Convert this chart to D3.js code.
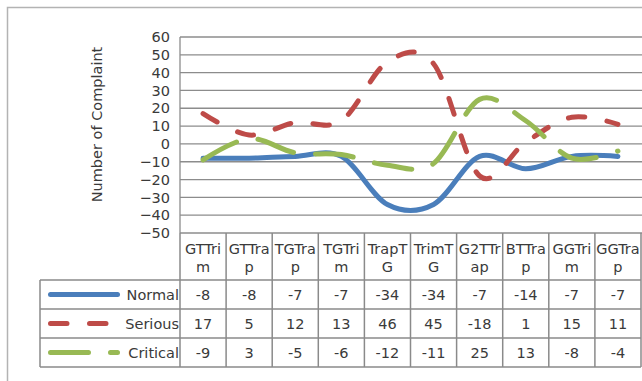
<!DOCTYPE html>
<html>
<head>
<meta charset="utf-8">
<script src="https://cdn.jsdelivr.net/npm/d3@7"></script>
<style>
  body { margin: 0; background: #fff; }
  svg { display: block; }
  text { font-family: "DejaVu Sans", sans-serif; fill: #3a3a3a; }
</style>
</head>
<body>
<script>
// Complaint counts per configuration
const categories = ["GTTrim", "GTTrap", "TGTrap", "TGTrim", "TrapTG", "TrimTG", "G2TTrap", "BTTrap", "GGTrim", "GGTrap"];
const normal   = [-8, -8, -7, -7, -34, -34, -7, -14, -7, -7];
const serious  = [17, 5, 12, 13, 46, 45, -18, 1, 15, 11];
const critical = [-9, 3, -5, -6, -12, -11, 25, 13, -8, -4];
const seriesNames = ["Normal", "Serious", "Critical"];
const yTicks = [60, 50, 40, 30, 20, 10, 0, -10, -20, -30, -40, -50];

const W = 642, H = 381;
const plot = { left: 180, right: 641, top: 37, bottom: 233 };
const rowH = 29, headerBottom = 280, tableLeft = 40;

const series = [
  { name: seriesNames[0], values: normal,   color: "#4a7ebb", dash: null },
  { name: seriesNames[1], values: serious,  color: "#be4b48", dash: "16.5,22.5" },
  { name: seriesNames[2], values: critical, color: "#98b954", dash: "38,22" }
];

const svg = d3.select("body").append("svg").attr("width", W).attr("height", H);

// chart frame
svg.append("path")
  .attr("d", `M7.5,${H}V7.5H${W}`)
  .attr("fill", "none").attr("stroke", "#b3b3b3").attr("stroke-width", 1.5);

const x = d3.scaleBand().domain(categories).range([plot.left, plot.right]);
const y = d3.scaleLinear().domain([-50, 60]).range([plot.bottom, plot.top]);

// horizontal gridlines
svg.append("g").selectAll("line").data(yTicks).join("line")
  .attr("x1", plot.left).attr("x2", W)
  .attr("y1", d => y(d)).attr("y2", d => y(d))
  .attr("stroke", "#8c8c8c").attr("stroke-width", 1.3);

// value axis labels
const yAxis = svg.append("g")
  .attr("transform", `translate(${plot.left - 10},0)`)
  .call(d3.axisLeft(y).tickValues(yTicks).tickSize(0).tickPadding(0).tickFormat(d3.format("d")));
yAxis.select(".domain").remove();
yAxis.selectAll("text").style("font-size", "14.5px").attr("fill", "#3a3a3a").style("font-family", "\"DejaVu Sans\", sans-serif");

svg.append("line")
  .attr("x1", plot.left).attr("x2", plot.left)
  .attr("y1", plot.top).attr("y2", plot.bottom)
  .attr("stroke", "#8c8c8c").attr("stroke-width", 1.3);

// axis title
svg.append("text")
  .attr("transform", "translate(102,124.5) rotate(-90)")
  .attr("text-anchor", "middle")
  .style("font-size", "14.5px")
  .text("Number of Complaint");

// series lines, smoothed
const line = d3.line()
  .x((d, i) => x(categories[i]) + x.bandwidth() / 2)
  .y(d => y(d))
  .curve(d3.curveCatmullRom.alpha(0));

series.forEach(s => {
  svg.append("path")
    .attr("d", line(s.values))
    .attr("fill", "none")
    .attr("stroke", s.color)
    .attr("stroke-width", 5)
    .attr("stroke-linecap", "round")
    .attr("stroke-linejoin", "round")
    .attr("stroke-dasharray", s.dash);
});

// data table
const tbl = svg.append("g");
const gridColor = "#8a8a8a";
const colEdges = categories.map(c => x(c)).concat([plot.right]);

tbl.selectAll("line.v").data(colEdges).join("line")
  .attr("x1", d => d).attr("x2", d => d)
  .attr("y1", plot.bottom).attr("y2", headerBottom + rowH * 3)
  .attr("stroke", gridColor).attr("stroke-width", 1.5);

tbl.append("line")
  .attr("x1", tableLeft).attr("x2", tableLeft)
  .attr("y1", headerBottom).attr("y2", headerBottom + rowH * 3)
  .attr("stroke", gridColor).attr("stroke-width", 1.5);

tbl.selectAll("line.h").data(d3.range(4)).join("line")
  .attr("x1", tableLeft).attr("x2", plot.right)
  .attr("y1", i => headerBottom + i * rowH).attr("y2", i => headerBottom + i * rowH)
  .attr("stroke", gridColor).attr("stroke-width", 1.5);

// category header, wrapped to two lines
const head = tbl.selectAll("text.cat").data(categories).join("text")
  .attr("text-anchor", "middle")
  .style("font-size", "14.5px")
  .attr("x", d => x(d) + x.bandwidth() / 2);
head.append("tspan").attr("x", d => x(d) + x.bandwidth() / 2).attr("y", 254).text(d => d.slice(0, 5));
head.append("tspan").attr("x", d => x(d) + x.bandwidth() / 2).attr("y", 272).text(d => d.slice(5));

// rows: legend key + values
series.forEach((s, r) => {
  const cy = headerBottom + r * rowH + rowH / 2;
  tbl.append("path")
    .attr("d", `M50.5,${cy}H117.5`)
    .attr("fill", "none")
    .attr("stroke", s.color)
    .attr("stroke-width", 5)
    .attr("stroke-linecap", "round")
    .attr("stroke-dasharray", s.dash);
  tbl.append("text")
    .attr("x", 179).attr("y", cy).attr("dy", "0.36em")
    .attr("text-anchor", "end")
    .style("font-size", "14.5px")
    .text(s.name);
  tbl.selectAll(null).data(s.values).join("text")
    .attr("x", (d, i) => x(categories[i]) + x.bandwidth() / 2)
    .attr("y", cy).attr("dy", "0.36em")
    .attr("text-anchor", "middle")
    .style("font-size", "14.5px")
    .text(d => d);
});
</script>
</body>
</html>
